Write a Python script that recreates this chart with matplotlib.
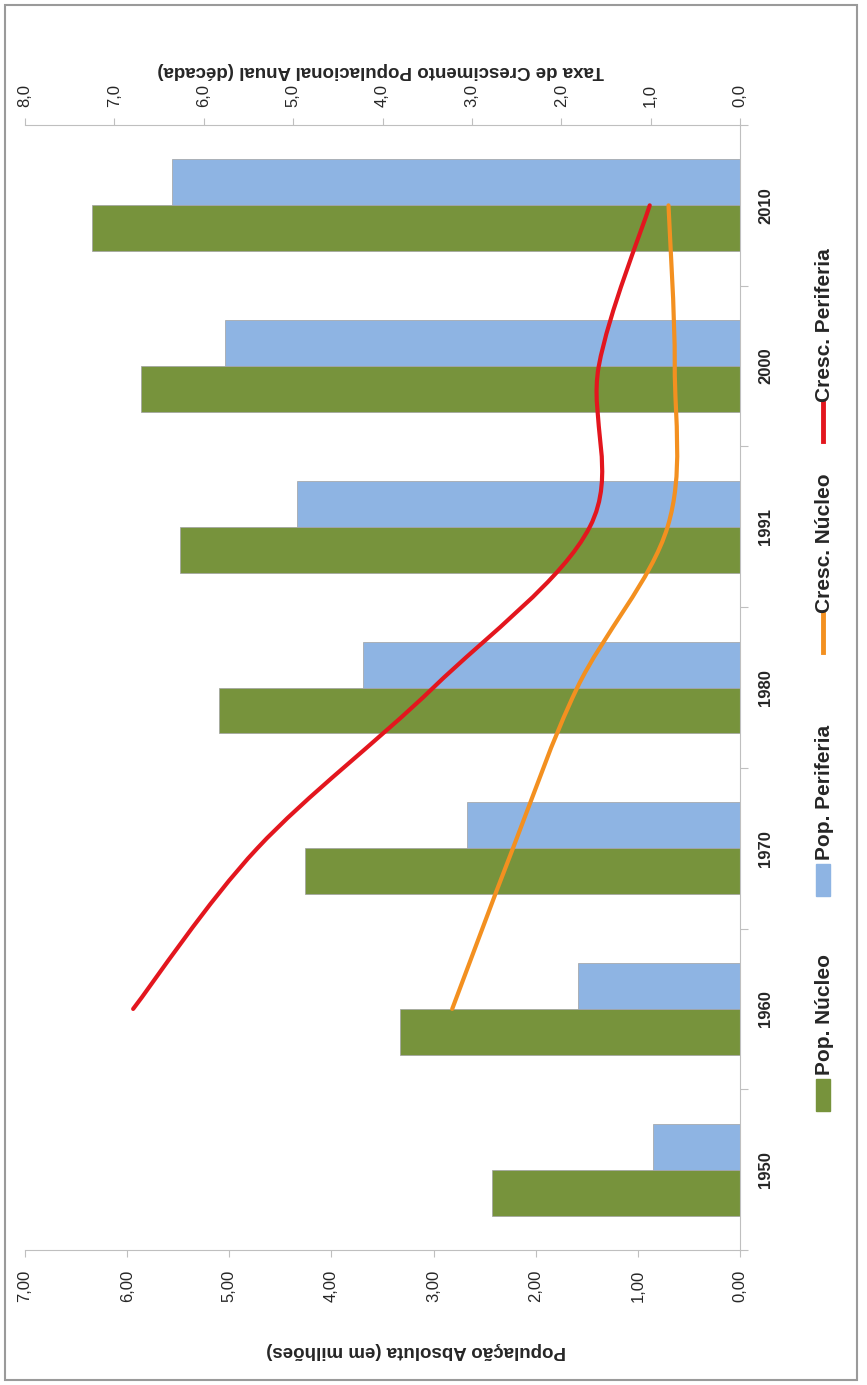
import numpy as np
import matplotlib
matplotlib.use('Agg')
from matplotlib import pyplot as plt
from matplotlib.path import Path
from matplotlib.patches import PathPatch, Rectangle
from matplotlib.lines import Line2D

# Dados
anos = ['1950', '1960', '1970', '1980', '1991', '2000', '2010']
pop_nucleo = [2.43, 3.33, 4.26, 5.10, 5.48, 5.86, 6.34]
pop_periferia = [0.85, 1.59, 2.67, 3.69, 4.34, 5.04, 5.56]
# taxas de crescimento: de 1960 a 2010
cresc_nucleo = [3.22, 2.54, 1.82, 0.81, 0.73, 0.80]
cresc_periferia = [6.79, 5.40, 3.43, 1.68, 1.58, 1.01]

verde = '#77933C'
azul = '#8EB4E3'
laranja = '#F39020'
vermelho = '#E3161E'
cinza = '#BFBFBF'
texto = '#262626'

plt.rcParams['font.family'] = ['Liberation Sans Narrow', 'Liberation Sans', 'DejaVu Sans']

W, H = 867, 1385


def fx(x):
    return x / W


def fy(y):
    return 1 - y / H


def curva_suave(x, y):
    """Curva suavizada tipo Excel (bezier que passa pelos pontos)."""
    pts = np.column_stack([x, y]).astype(float)
    n = len(pts)
    verts = [pts[0]]
    codes = [Path.MOVETO]
    for i in range(n - 1):
        p0 = pts[max(i - 1, 0)]
        p1 = pts[i]
        p2 = pts[i + 1]
        p3 = pts[min(i + 2, n - 1)]
        verts += [p1 + (p2 - p0) / 6, p2 - (p3 - p1) / 6, p2]
        codes += [Path.CURVE4] * 3
    return Path(verts, codes)


fig = plt.figure(figsize=(W / 100, H / 100), dpi=100)
fig.patches.append(Rectangle((fx(5), fy(1380)), fx(857) - fx(5), fy(5) - fy(1380),
                             transform=fig.transFigure, fill=False,
                             edgecolor='#9A9A9A', linewidth=1.5))

ax = fig.add_axes([fx(25), fy(1250), fx(740) - fx(25), fy(125) - fy(1250)])
pos = np.arange(len(anos))
h = 1 / 3.5
ax.barh(pos - h / 2, pop_nucleo, height=h, color=verde, edgecolor='#A0A0A0', linewidth=0.5)
ax.barh(pos + h / 2, pop_periferia, height=h, color=azul, edgecolor='#A0A0A0', linewidth=0.5)
ax.set_xlim(7, 0)
ax.set_ylim(-0.5, len(anos) - 0.5)

ax.spines['left'].set_visible(False)
ax.spines['top'].set_visible(False)
ax.spines['bottom'].set_color(cinza)
ax.spines['right'].set_color(cinza)

ax.set_xticks(np.arange(0, 8))
ax.set_xticklabels([f'{v:.2f}'.replace('.', ',') for v in range(8)], rotation=90)
ax.tick_params(axis='x', direction='out', length=5, color=cinza, labelsize=12,
               labelcolor=texto, pad=9)

ax.yaxis.tick_right()
ax.set_yticks(np.arange(-0.5, len(anos), 1))
ax.set_yticklabels([])
ax.set_yticks(pos, minor=True)
ax.set_yticklabels(anos, minor=True, fontweight='bold', rotation=90, va='center')
ax.tick_params(axis='y', which='major', direction='out', length=6, color=cinza)
ax.tick_params(axis='y', which='minor', length=0, pad=13, labelsize=12, labelcolor=texto)

ax2 = ax.twiny()
ax2.set_xlim(8, 0)
ax2.set_ylim(-0.5, len(anos) - 0.5)
for s in ['left', 'right', 'bottom']:
    ax2.spines[s].set_visible(False)
ax2.spines['top'].set_color(cinza)
ax2.set_xticks(np.arange(0, 9))
ax2.set_xticklabels([f'{v:.1f}'.replace('.', ',') for v in range(9)], rotation=90)
ax2.tick_params(axis='x', direction='out', length=5, color=cinza, labelsize=12,
                labelcolor=texto, pad=8)

ax2.add_patch(PathPatch(curva_suave(cresc_nucleo, pos[1:]), facecolor='none',
                        edgecolor=laranja, linewidth=3, capstyle='round'))
ax2.add_patch(PathPatch(curva_suave(cresc_periferia, pos[1:]), facecolor='none',
                        edgecolor=vermelho, linewidth=3, capstyle='round'))

# titulos dos eixos
fig.text(fx(381), fy(70), 'Taxa de Crescimento Populacional Anual (década)', rotation=180,
         ha='center', va='center', fontsize=13.5, fontweight='bold', color=texto)
fig.text(fx(416), fy(1351), 'População Absoluta (em milhões)', rotation=180,
         ha='center', va='center', fontsize=13.5, fontweight='bold', color=texto)

# legenda
itens = [('Pop. Núcleo', verde, 'box', 1095),
         ('Pop. Periferia', azul, 'box', 880),
         ('Cresc. Núcleo', laranja, 'line', 633),
         ('Cresc. Periferia', vermelho, 'line', 422)]
for nome, cor, tipo, yc in itens:
    if tipo == 'box':
        fig.patches.append(Rectangle((fx(816), fy(yc + 16)), fx(14), 32 / H,
                                     transform=fig.transFigure, color=cor))
    else:
        fig.lines.append(Line2D([fx(823), fx(823)], [fy(yc + 19), fy(yc - 19)],
                                transform=fig.transFigure, color=cor, linewidth=3.5))
    fig.text(fx(824), fy(yc - 20), nome, rotation=90, ha='center', va='bottom',
             fontsize=15, fontweight='bold', color=texto)

fig.savefig('out.png', dpi=100)
